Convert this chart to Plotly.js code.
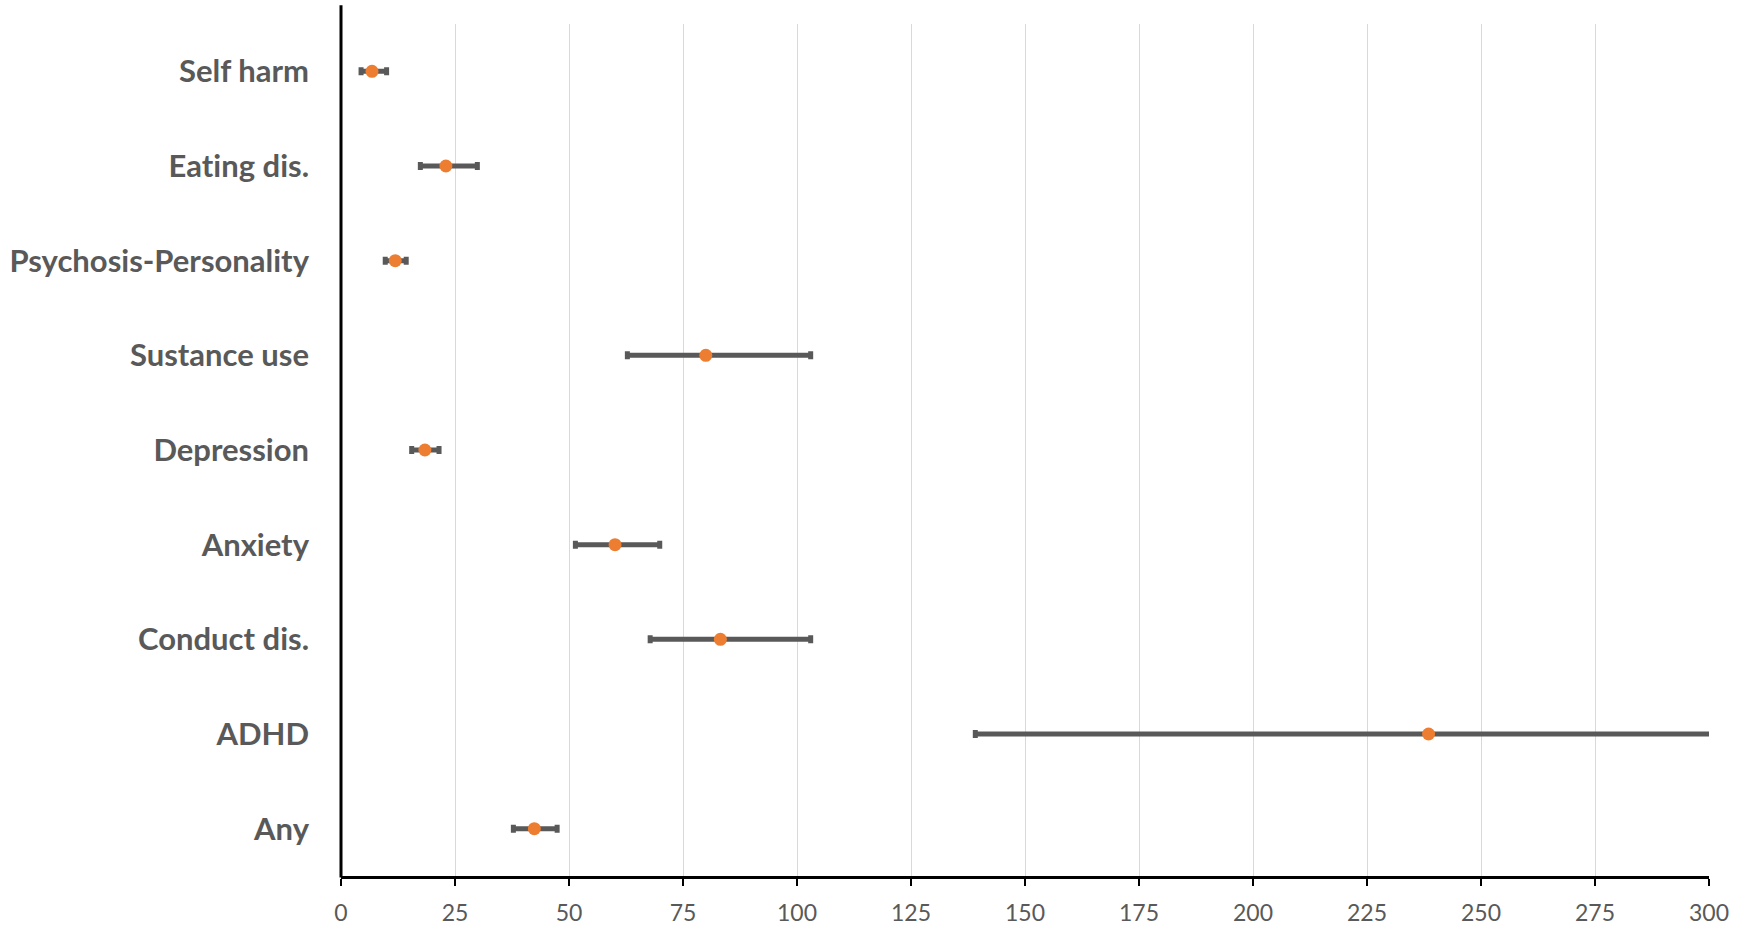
<!DOCTYPE html>
<html>
<head>
<meta charset="utf-8">
<script src="https://cdn.plot.ly/plotly-3.0.1.min.js"></script>
<style>
html,body{margin:0;padding:0;background:#fff;}
#chart{width:1742px;height:935px;}
#chart text{font-variant-ligatures:none;font-feature-settings:"liga" 0, "clig" 0;}
</style>
</head>
<body>
<div id="chart"></div>
<script>
// Categories (top to bottom)
const categories = ["Self harm", "Eating dis.", "Psychosis-Personality", "Sustance use", "Depression", "Anxiety", "Conduct dis.", "ADHD", "Any"];
// Point estimates
const estimates = [6.8, 23.0, 11.9, 80.0, 18.4, 60.1, 83.2, 238.5, 42.4];
// Lower and upper confidence limits
const lowerCI = [4.4, 17.4, 9.7, 62.8, 15.5, 51.4, 67.8, 139.1, 37.8];
const upperCI = [10.0, 29.9, 14.3, 103.0, 21.5, 69.9, 103.0, 410.0, 47.4];
// X axis ticks
const xTicks = [0, 25, 50, 75, 100, 125, 150, 175, 200, 225, 250, 275, 300];

const errPlus = estimates.map((v, i) => upperCI[i] - v);
const errMinus = estimates.map((v, i) => v - lowerCI[i]);

const trace = {
  type: 'scatter',
  mode: 'markers',
  x: estimates,
  y: categories,
  marker: {color: '#ED7D31', size: 13},
  error_x: {
    type: 'data',
    symmetric: false,
    array: errPlus,
    arrayminus: errMinus,
    color: '#595959',
    thickness: 5,
    width: 4
  },
  hoverinfo: 'skip',
  showlegend: false
};

const layout = {
  width: 1742,
  height: 935,
  margin: {l: 341, r: 33, t: 24, b: 59},
  paper_bgcolor: '#ffffff',
  plot_bgcolor: '#ffffff',
  font: {family: 'Lato, "Open Sans", sans-serif', color: '#595959'},
  xaxis: {
    range: [0, 300],
    tickvals: xTicks,
    ticktext: xTicks.map(String),
    showgrid: true,
    gridcolor: '#D9D9D9',
    gridwidth: 1,
    zeroline: false,
    showline: true,
    linecolor: '#000000',
    linewidth: 3,
    ticks: 'outside',
    ticklen: 7,
    tickwidth: 2,
    tickcolor: '#000000',
    ticklabelstandoff: 7,
    tickfont: {family: 'Lato, "Open Sans", sans-serif', size: 23, color: '#595959'},
    fixedrange: true
  },
  yaxis: {
    type: 'category',
    categoryorder: 'array',
    categoryarray: categories,
    range: [8.5, -0.5],
    showgrid: false,
    zeroline: false,
    showline: false,
    ticks: '',
    ticklabelstandoff: 31,
    tickfont: {family: 'Lato, "Open Sans", sans-serif', size: 31, color: '#595959', weight: 'bold'},
    fixedrange: true
  },
  shapes: [{
    type: 'line', xref: 'paper', yref: 'paper',
    x0: 0, x1: 0, y0: -0.0018, y1: 1.022,
    line: {color: '#000000', width: 3}
  }]
};

Plotly.newPlot('chart', [trace], layout, {displayModeBar: false, staticPlot: true});
</script>
</body>
</html>
